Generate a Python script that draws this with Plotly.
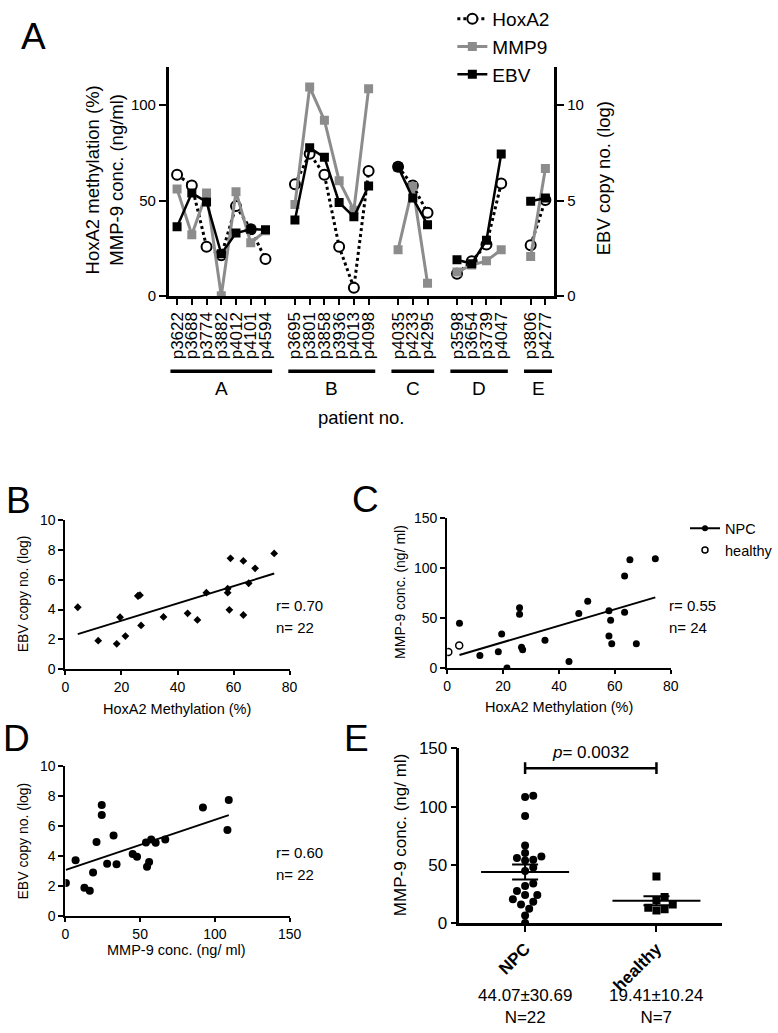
import numpy as np
import plotly.graph_objects as go

# ---------------- data ----------------
patients = ["p3622", "p3688", "p3774", "p3882", "p4012", "p4101", "p4594",
            "p3695", "p3801", "p3858", "p3936", "p4013", "p4098",
            "p4035", "p4233", "p4295",
            "p3598", "p3654", "p3739", "p4047",
            "p3806", "p4277"]
groups = ["A"] * 7 + ["B"] * 6 + ["C"] * 3 + ["D"] * 4 + ["E"] * 2
group_names = ["A", "B", "C", "D", "E"]
hoxa2 = [63.5, 57.9, 25.9, 21.4, 47.1, 35.0, 19.5,
         58.5, 74.5, 63.5, 25.9, 4.4, 65.4,
         67.7, 57.9, 43.6,
         11.7, 18.3, 27.0, 58.9,
         26.6, 50.3]
mmp9 = [56.0, 32.2, 53.9, 0.3, 54.6, 27.9, 34.2,
        47.9, 109.3, 92.0, 60.4, 45.0, 108.4,
        24.3, 57.4, 6.8,
        12.7, 16.3, 18.5, 24.3,
        20.8, 66.8]
ebv = [3.63, 5.39, 4.93, 2.22, 3.30, 3.50, 3.48,
       3.98, 7.76, 7.26, 4.90, 4.15, 5.76,
       6.76, 5.13, 3.74,
       1.91, 1.70, 2.93, 7.43,
       4.96, 5.13]
healthy_hoxa2 = [0.4, 4.3]
healthy_mmp9_paired = [16.2, 22.7]
healthy_mmp9 = [40.3, 22.7, 20.0, 16.2, 12.2, 11.1, 13.4]

# regression lines (slope, intercept)
fit_B = (0.0579, 2.095)
fit_C = (0.8205, 9.61)
fit_D = (0.0335, 3.09)
stats_B = ["r= 0.70", "n= 22"]
stats_C = ["r= 0.55", "n= 24"]
stats_D = ["r= 0.60", "n= 22"]
E_categories = ["NPC", "healthy"]
E_summary = ["44.07±30.69", "19.41±10.24"]
E_counts = ["N=22", "N=7"]
p_text = "0.0032"
bracket_y = 133

FONT = "Liberation Sans, Arial, Helvetica, sans-serif"
W, H = 778, 1033


def px(x):
    return x / W


def py(y):
    return 1 - y / H


fig = go.Figure()

# ---------------- Panel A ----------------
slot = []
pos = 0
prev = None
for g in groups:
    if prev is not None and g != prev:
        pos += 1
    slot.append(pos)
    pos += 1
    prev = g


def with_breaks(vals):
    xs, ys = [], []
    for i, v in enumerate(vals):
        if i > 0 and groups[i] != groups[i - 1]:
            xs.append(None)
            ys.append(None)
        xs.append(slot[i])
        ys.append(v)
    return xs, ys


xh, yh = with_breaks(hoxa2)
xm, ym = with_breaks(mmp9)
xe, ye = with_breaks(ebv)

fig.add_trace(go.Scatter(x=xh, y=yh, mode="lines+markers", name="HoxA2",
                         line=dict(color="black", width=3, dash="dot"),
                         marker=dict(symbol="circle", size=10, color="white",
                                     line=dict(color="black", width=2)),
                         xaxis="x", yaxis="y", legend="legend"))
fig.add_trace(go.Scatter(x=xm, y=ym, mode="lines+markers", name="MMP9",
                         line=dict(color="#8c8c8c", width=3),
                         marker=dict(symbol="square", size=9, color="#8c8c8c"),
                         xaxis="x", yaxis="y", legend="legend"))
fig.add_trace(go.Scatter(x=xe, y=ye, mode="lines+markers", name="EBV",
                         line=dict(color="black", width=2.5),
                         marker=dict(symbol="square", size=9, color="black"),
                         xaxis="x", yaxis="y2", legend="legend"))

shapes = []
annotations = []
for gname in group_names:
    s = [slot[i] for i in range(len(groups)) if groups[i] == gname]
    shapes.append(dict(type="line", xref="x", yref="paper", x0=min(s) - 0.45, x1=max(s) + 0.45,
                       y0=py(363), y1=py(363), line=dict(color="black", width=3.5)))
    annotations.append(dict(text=gname, xref="x", yref="paper", x=(min(s) + max(s)) / 2, y=py(381),
                            showarrow=False, font=dict(size=19), xanchor="center", yanchor="middle"))

annotations.append(dict(text="patient no.", xref="paper", yref="paper", x=px(368), y=py(411),
                        showarrow=False, font=dict(size=18.5), xanchor="center", yanchor="middle"))
annotations.append(dict(text="HoxA2 methylation (%)<br>MMP-9 conc. (ng/ml)", xref="paper", yref="paper",
                        x=px(104), y=py(166), textangle=-90, showarrow=False, font=dict(size=18.5),
                        xanchor="center", yanchor="middle"))
annotations.append(dict(text="EBV copy no. (log)", xref="paper", yref="paper",
                        x=px(618), y=py(165), textangle=-90, showarrow=False, font=dict(size=18.5),
                        xanchor="center", yanchor="middle"))

# ---------------- Panel B ----------------
xb = np.array(hoxa2)
fig.add_trace(go.Scatter(x=hoxa2, y=ebv, mode="markers", showlegend=False,
                         marker=dict(symbol="diamond", size=6, color="black"),
                         xaxis="x3", yaxis="y3"))
xl = np.array([xb.min(), xb.max()])
fig.add_trace(go.Scatter(x=xl, y=fit_B[0] * xl + fit_B[1], mode="lines", showlegend=False,
                         line=dict(color="black", width=2), xaxis="x3", yaxis="y3"))

# ---------------- Panel C ----------------
fig.add_trace(go.Scatter(x=hoxa2, y=mmp9, mode="markers", showlegend=False,
                         marker=dict(symbol="circle", size=7, color="black"),
                         xaxis="x4", yaxis="y4"))
fig.add_trace(go.Scatter(x=healthy_hoxa2, y=healthy_mmp9_paired, mode="markers", showlegend=False,
                         marker=dict(symbol="circle", size=7, color="white",
                                     line=dict(color="black", width=1.5)),
                         xaxis="x4", yaxis="y4"))
xl = np.array([min(hoxa2), max(hoxa2)])
fig.add_trace(go.Scatter(x=xl, y=fit_C[0] * xl + fit_C[1], mode="lines", showlegend=False,
                         line=dict(color="black", width=2), xaxis="x4", yaxis="y4"))
# legend entries for panel C
fig.add_trace(go.Scatter(x=[None], y=[None], mode="lines+markers", name="NPC",
                         line=dict(color="black", width=2),
                         marker=dict(symbol="circle", size=6, color="black"),
                         xaxis="x4", yaxis="y4", legend="legend2"))
fig.add_trace(go.Scatter(x=[None], y=[None], mode="markers", name="healthy",
                         marker=dict(symbol="circle", size=6, color="white",
                                     line=dict(color="black", width=1.5)),
                         xaxis="x4", yaxis="y4", legend="legend2"))

# ---------------- Panel D ----------------
fig.add_trace(go.Scatter(x=mmp9, y=ebv, mode="markers", showlegend=False,
                         marker=dict(symbol="circle", size=8, color="black"),
                         xaxis="x5", yaxis="y5"))
xl = np.array([min(mmp9), max(mmp9)])
fig.add_trace(go.Scatter(x=xl, y=fit_D[0] * xl + fit_D[1], mode="lines", showlegend=False,
                         line=dict(color="black", width=2), xaxis="x5", yaxis="y5"))

# ---------------- Panel E ----------------
E_xpx = (740 - 469.3) / 2.0   # px per category unit
E_ypx = (930.7 - 750.7) / 150.0


def swarm(vals, d=7.6, step=4.2):
    vals = np.asarray(vals, dtype=float)
    order = np.argsort(vals)
    placed = []
    offs = np.zeros(len(vals))
    cands = [0.0]
    for j in range(1, 30):
        cands += [j * step, -j * step]
    for i in order:
        yv = vals[i] * E_ypx
        for c in cands:
            if all((c - a) ** 2 + (yv - b) ** 2 >= d * d for a, b in placed):
                break
        placed.append((c, yv))
        offs[i] = c / E_xpx
    return offs


e_groups = [mmp9, healthy_mmp9]
e_symbols = ["circle", "square"]
for k, vals in enumerate(e_groups):
    offs = swarm(vals)
    fig.add_trace(go.Scatter(x=k + offs, y=vals, mode="markers", showlegend=False,
                             marker=dict(symbol=e_symbols[k], size=8, color="black"),
                             xaxis="x6", yaxis="y6"))
    m = float(np.mean(vals))
    sem = float(np.std(vals, ddof=1) / np.sqrt(len(vals)))
    fig.add_trace(go.Scatter(x=[k - 0.335, k + 0.335], y=[m, m], mode="lines", showlegend=False,
                             line=dict(color="black", width=2), xaxis="x6", yaxis="y6"))
    fig.add_trace(go.Scatter(x=[k], y=[m], mode="markers", showlegend=False,
                             marker=dict(size=1, color="rgba(0,0,0,0)"),
                             error_y=dict(type="data", array=[sem], visible=True, width=13,
                                          thickness=2, color="black"),
                             xaxis="x6", yaxis="y6"))
    annotations.append(dict(text=E_summary[k] + "<br>" + E_counts[k], xref="x6", yref="paper",
                            x=k, y=py(1016), showarrow=False, font=dict(size=17),
                            xanchor="center", yanchor="middle"))

shapes.append(dict(type="line", xref="x6", yref="y6", x0=0, x1=1, y0=bracket_y, y1=bracket_y,
                   line=dict(color="black", width=2.5)))
for xx in (0, 1):
    shapes.append(dict(type="line", xref="x6", yref="y6", x0=xx, x1=xx, y0=bracket_y - 5,
                       y1=bracket_y + 5, line=dict(color="black", width=2.5)))
annotations.append(dict(text="<i>p</i>= " + p_text, xref="x6", yref="paper", x=0.5, y=py(755),
                        showarrow=False, font=dict(size=17), xanchor="center", yanchor="middle"))

# ---------------- text annotations ----------------
for lab, (xx, yy) in zip(["A", "B", "C", "D", "E"],
                         [(30, 19), (15, 496), (373, 495), (13, 741), (363, 741)]):
    annotations.append(dict(text=lab, xref="paper", yref="paper", x=px(xx), y=py(yy), showarrow=False,
                            font=dict(size=37), xanchor="center", yanchor="middle"))

for stats, (xx, yy) in [(stats_B, (278, 604)), (stats_C, (683, 604)), (stats_D, (278, 858))]:
    for j, t in enumerate(stats):
        annotations.append(dict(text=t, xref="paper", yref="paper", x=px(xx), y=py(yy + 22 * j),
                                showarrow=False, font=dict(size=15), xanchor="left", yanchor="middle"))

titles = [
    ("EBV copy no. (log)", 20, 592, -90, 14),
    ("HoxA2 Methylation (%)", 178, 710, 0, 14.5),
    ("MMP-9 conc. (ng/ ml)", 408, 590, -90, 14),
    ("HoxA2 Methylation (%)", 572, 708, 0, 14.5),
    ("EBV copy no. (log)", 20, 846, -90, 14),
    ("MMP-9 conc. (ng/ ml)", 178, 958, 0, 14.5),
    ("MMP-9 conc. (ng/ ml)", 408, 840, -90, 17),
]
for t, xx, yy, ang, fs in titles:
    annotations.append(dict(text=t, xref="paper", yref="paper", x=px(xx), y=py(yy), textangle=ang,
                            showarrow=False, font=dict(size=fs), xanchor="center", yanchor="middle"))


def axstyle(lw=2, fs=14, tl=5):
    return dict(showline=True, linecolor="black", linewidth=lw, ticks="outside", ticklen=tl,
                tickwidth=2, tickcolor="black", showgrid=False, zeroline=False,
                tickfont=dict(size=fs, color="black"), fixedrange=True)


fig.update_layout(
    width=W, height=H, margin=dict(l=0, r=0, t=0, b=0),
    paper_bgcolor="white", plot_bgcolor="white",
    font=dict(family=FONT, color="black"),
    shapes=shapes, annotations=annotations,
    legend=dict(x=px(462), y=py(-19), xanchor="left", yanchor="top", font=dict(size=19),
                bgcolor="rgba(0,0,0,0)", tracegroupgap=0, itemclick=False),
    legend2=dict(x=px(702), y=py(508), xanchor="left", yanchor="top", font=dict(size=14.5),
                 bgcolor="rgba(0,0,0,0)", tracegroupgap=0, itemclick=False),
    xaxis=dict(**axstyle(3, 17, 6), domain=[px(170), px(567)], range=[-0.55, 25.6], anchor="y",
               tickvals=slot, ticktext=patients, tickangle=-90),
    yaxis=dict(**axstyle(3, 15, 7), domain=[py(286), py(50)], range=[0, 120], anchor="x",
               tickvals=[0, 50, 100]),
    yaxis2=dict(**axstyle(3, 15, 7), range=[0, 12], overlaying="y", side="right", anchor="x",
                tickvals=[0, 5, 10]),
    xaxis3=dict(**axstyle(2, 14, 4), domain=[px(63.3), px(294.3)], range=[0, 80], anchor="y3",
                tickvals=[0, 20, 40, 60, 80]),
    yaxis3=dict(**axstyle(), domain=[py(669.3), py(516)], range=[0, 10], anchor="x3",
                tickvals=[0, 2, 4, 6, 8, 10]),
    xaxis4=dict(**axstyle(2, 14, 4), domain=[px(456.7), px(687)], range=[0, 80], anchor="y4",
                tickvals=[0, 20, 40, 60, 80]),
    yaxis4=dict(**axstyle(), domain=[py(668.3), py(514)], range=[0, 150], anchor="x4",
                tickvals=[0, 50, 100, 150]),
    xaxis5=dict(**axstyle(2, 14, 4), domain=[px(63.3), px(294.3)], range=[0, 150], anchor="y5",
                tickvals=[0, 50, 100, 150]),
    yaxis5=dict(**axstyle(), domain=[py(923.3), py(769.3)], range=[0, 10], anchor="x5",
                tickvals=[0, 2, 4, 6, 8, 10]),
    xaxis6=dict(**axstyle(2.5, 17, 6), domain=[px(469.3), px(740)], range=[-0.5, 1.5], anchor="y6",
                tickvals=[0, 1], ticktext=["<b>" + c + "</b>" for c in E_categories], tickangle=-45),
    yaxis6=dict(**axstyle(2.5, 17, 6), domain=[py(930.7), py(750.7)], range=[0, 150], anchor="x6",
                tickvals=[0, 50, 100, 150]),
)

fig.write_html("out.html", config={"displayModeBar": False},
               post_script="document.body.style.margin='0';document.body.style.overflow='hidden';")
